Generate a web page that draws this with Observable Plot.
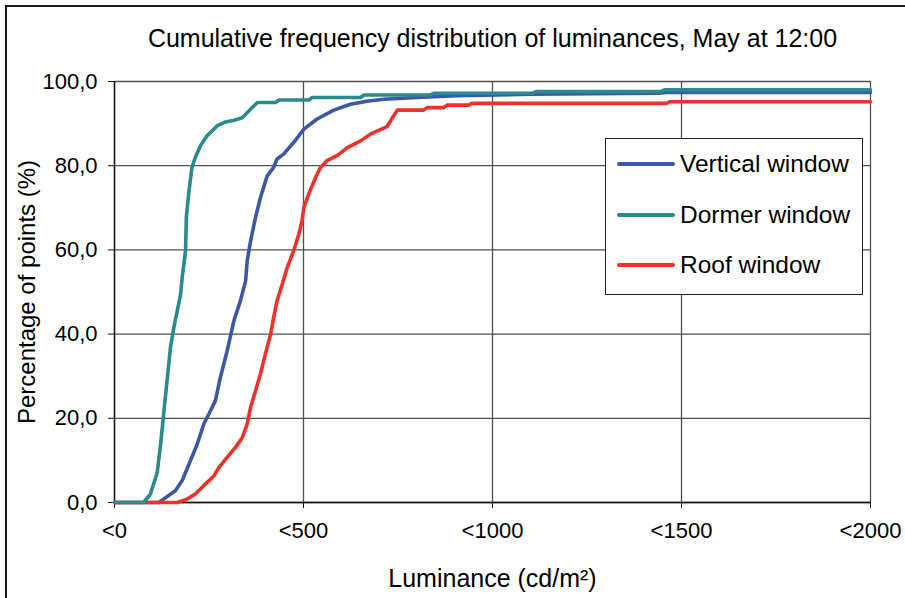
<!DOCTYPE html>
<html>
<head>
<meta charset="utf-8">
<script src="https://cdn.jsdelivr.net/npm/d3@7"></script>
<script src="https://cdn.jsdelivr.net/npm/@observablehq/plot@0.6"></script>
<style>
  html, body { margin: 0; padding: 0; background: #fff; }
  #wrap { position: relative; width: 905px; height: 598px; overflow: hidden; font-family: "Liberation Sans", Arial, sans-serif; }
  #frame { position: absolute; left: 5px; top: 5px; width: 1200px; height: 1200px; border-left: 2px solid #1a1a1a; border-top: 2px solid #1a1a1a; box-sizing: border-box; pointer-events: none; }
  #legend { position: absolute; left: 605px; top: 138px; width: 258px; height: 157px; box-sizing: border-box; border: 1px solid #222; background: #fff; }
  .item { position: absolute; left: 10px; height: 30px; display: flex; align-items: center; font-size: 24.5px; color: #000; }
  .item svg { margin-right: 4px; }
</style>
</head>
<body>
<div id="wrap">
  <div id="chart"></div>
  <div id="frame"></div>
  <div id="legend"></div>
</div>
<script>
// ---- data ----
const seriesNames = ["Vertical window", "Dormer window", "Roof window"];
const seriesColors = ["#3B57A6", "#2A8A8C", "#EF3129"];

const vertX = [0, 117, 139, 161, 179, 197, 219, 236, 254, 267, 280, 298, 316, 333, 347, 351, 360, 373, 386, 404, 421, 430, 448, 474, 501, 536, 580, 624, 668, 712, 801, 906, 1100, 1440, 1460, 2000];
const vertY = [0, 0, 1.4, 2.8, 5.2, 9.1, 13.9, 18.6, 21.8, 24.2, 29.7, 36.0, 43.2, 47.9, 52.7, 57.4, 62.1, 67.7, 72.4, 77.6, 79.6, 81.6, 82.8, 85.5, 88.7, 91.1, 93.2, 94.6, 95.3, 95.8, 96.2, 96.6, 97.0, 97.2, 97.4, 97.4];

const dormX = [0, 77, 95, 113, 122, 130, 139, 148, 157, 175, 179, 188, 190, 197, 205, 214, 227, 245, 272, 294, 316, 338, 351, 364, 378, 426, 435, 514, 523, 651, 660, 835, 845, 1105, 1115, 1445, 1455, 2000];
const dormY = [0, 0, 2.0, 7.1, 13.9, 21.0, 28.9, 36.8, 41.6, 49.5, 53.4, 59.8, 67.7, 74.0, 79.6, 82.0, 84.7, 87.1, 89.5, 90.4, 90.8, 91.4, 92.6, 93.8, 95.0, 95.0, 95.6, 95.6, 96.2, 96.2, 96.8, 96.8, 97.2, 97.2, 97.6, 97.6, 98.0, 98.0];

const roofX = [0, 166, 192, 214, 236, 263, 276, 298, 320, 338, 351, 360, 373, 386, 399, 413, 421, 430, 444, 457, 474, 488, 496, 501, 514, 532, 545, 562, 589, 616, 651, 677, 721, 748, 818, 827, 871, 880, 937, 946, 1460, 1470, 2000];
const roofY = [0, 0, 0.8, 2.0, 4.0, 6.3, 8.3, 10.7, 13.1, 15.4, 18.6, 22.6, 26.5, 30.5, 35.2, 40.0, 43.9, 47.9, 51.9, 55.8, 59.8, 63.8, 66.9, 70.1, 73.3, 77.2, 79.6, 81.2, 82.4, 84.3, 85.9, 87.5, 89.3, 93.2, 93.2, 93.8, 93.8, 94.4, 94.4, 94.8, 94.8, 95.2, 95.2];

const xTicks = [0, 500, 1000, 1500, 2000];
const yTicks = [0, 20, 40, 60, 80, 100];

const titleText = "Cumulative frequency distribution of luminances, May at 12:00";
const xLabel = "Luminance (cd/m²)";
const yLabel = "Percentage of points (%)";

// ---- build table ----
const toRows = (xs, ys, name) => xs.map((x, i) => ({x, y: ys[i], series: name}));
const vertical = toRows(vertX, vertY, seriesNames[0]);
const dormer = toRows(dormX, dormY, seriesNames[1]);
const roof = toRows(roofX, roofY, seriesNames[2]);

const gridColor = "#505050";

const chart = Plot.plot({
  width: 905,
  height: 598,
  marginLeft: 114,
  marginRight: 35,
  marginTop: 81,
  marginBottom: 96,
  style: {fontFamily: "'Liberation Sans', Arial, sans-serif", background: "transparent", color: "#000"},
  x: {domain: [0, 2000]},
  y: {domain: [0, 100]},
  marks: [
    Plot.gridX(xTicks, {stroke: gridColor, strokeOpacity: 1, strokeWidth: 1.3}),
    Plot.gridY(yTicks, {stroke: gridColor, strokeOpacity: 1, strokeWidth: 1.3}),
    Plot.ruleX([0], {stroke: "#111", strokeWidth: 1.4}),
    Plot.ruleY([0], {stroke: "#111", strokeWidth: 1.4}),
    Plot.axisX(xTicks, {tickSize: 6, tickPadding: 14, fontSize: 22, label: null, stroke: "#111", tickFormat: d => "<" + d}),
    Plot.axisY(yTicks, {tickSize: 6, tickPadding: 11, fontSize: 22, label: null, stroke: "#111", tickFormat: d => d.toFixed(1).replace(".", ",")}),
    Plot.line(vertical, {x: "x", y: "y", stroke: seriesColors[0], strokeWidth: 3.6, strokeLinejoin: "round"}),
    Plot.line(roof, {x: "x", y: "y", stroke: seriesColors[2], strokeWidth: 3.6, strokeLinejoin: "round"}),
    Plot.line(dormer, {x: "x", y: "y", stroke: seriesColors[1], strokeWidth: 3.6, strokeLinejoin: "round"}),
    Plot.text([titleText], {frameAnchor: "top", lineAnchor: "middle", dy: -43, fontSize: 25, fill: "#000"}),
    Plot.text([xLabel], {frameAnchor: "bottom", lineAnchor: "middle", dy: 76, fontSize: 25, fill: "#000"}),
    Plot.text([yLabel], {frameAnchor: "left", textAnchor: "middle", lineAnchor: "middle", dx: -87, rotate: -90, fontSize: 24, fill: "#000"})
  ]
});
document.getElementById("chart").appendChild(chart);

// ---- legend ----
const legend = document.getElementById("legend");
const legendTops = [10, 61, 111];
[0, 1, 2].forEach(i => {
  const div = document.createElement("div");
  div.className = "item";
  div.style.top = legendTops[i] + "px";
  div.innerHTML = `<svg width="60" height="8"><line x1="3" y1="4" x2="57" y2="4" stroke="${seriesColors[i]}" stroke-width="4" stroke-linecap="round"/></svg><span>${seriesNames[i]}</span>`;
  legend.appendChild(div);
});
</script>
</body>
</html>
